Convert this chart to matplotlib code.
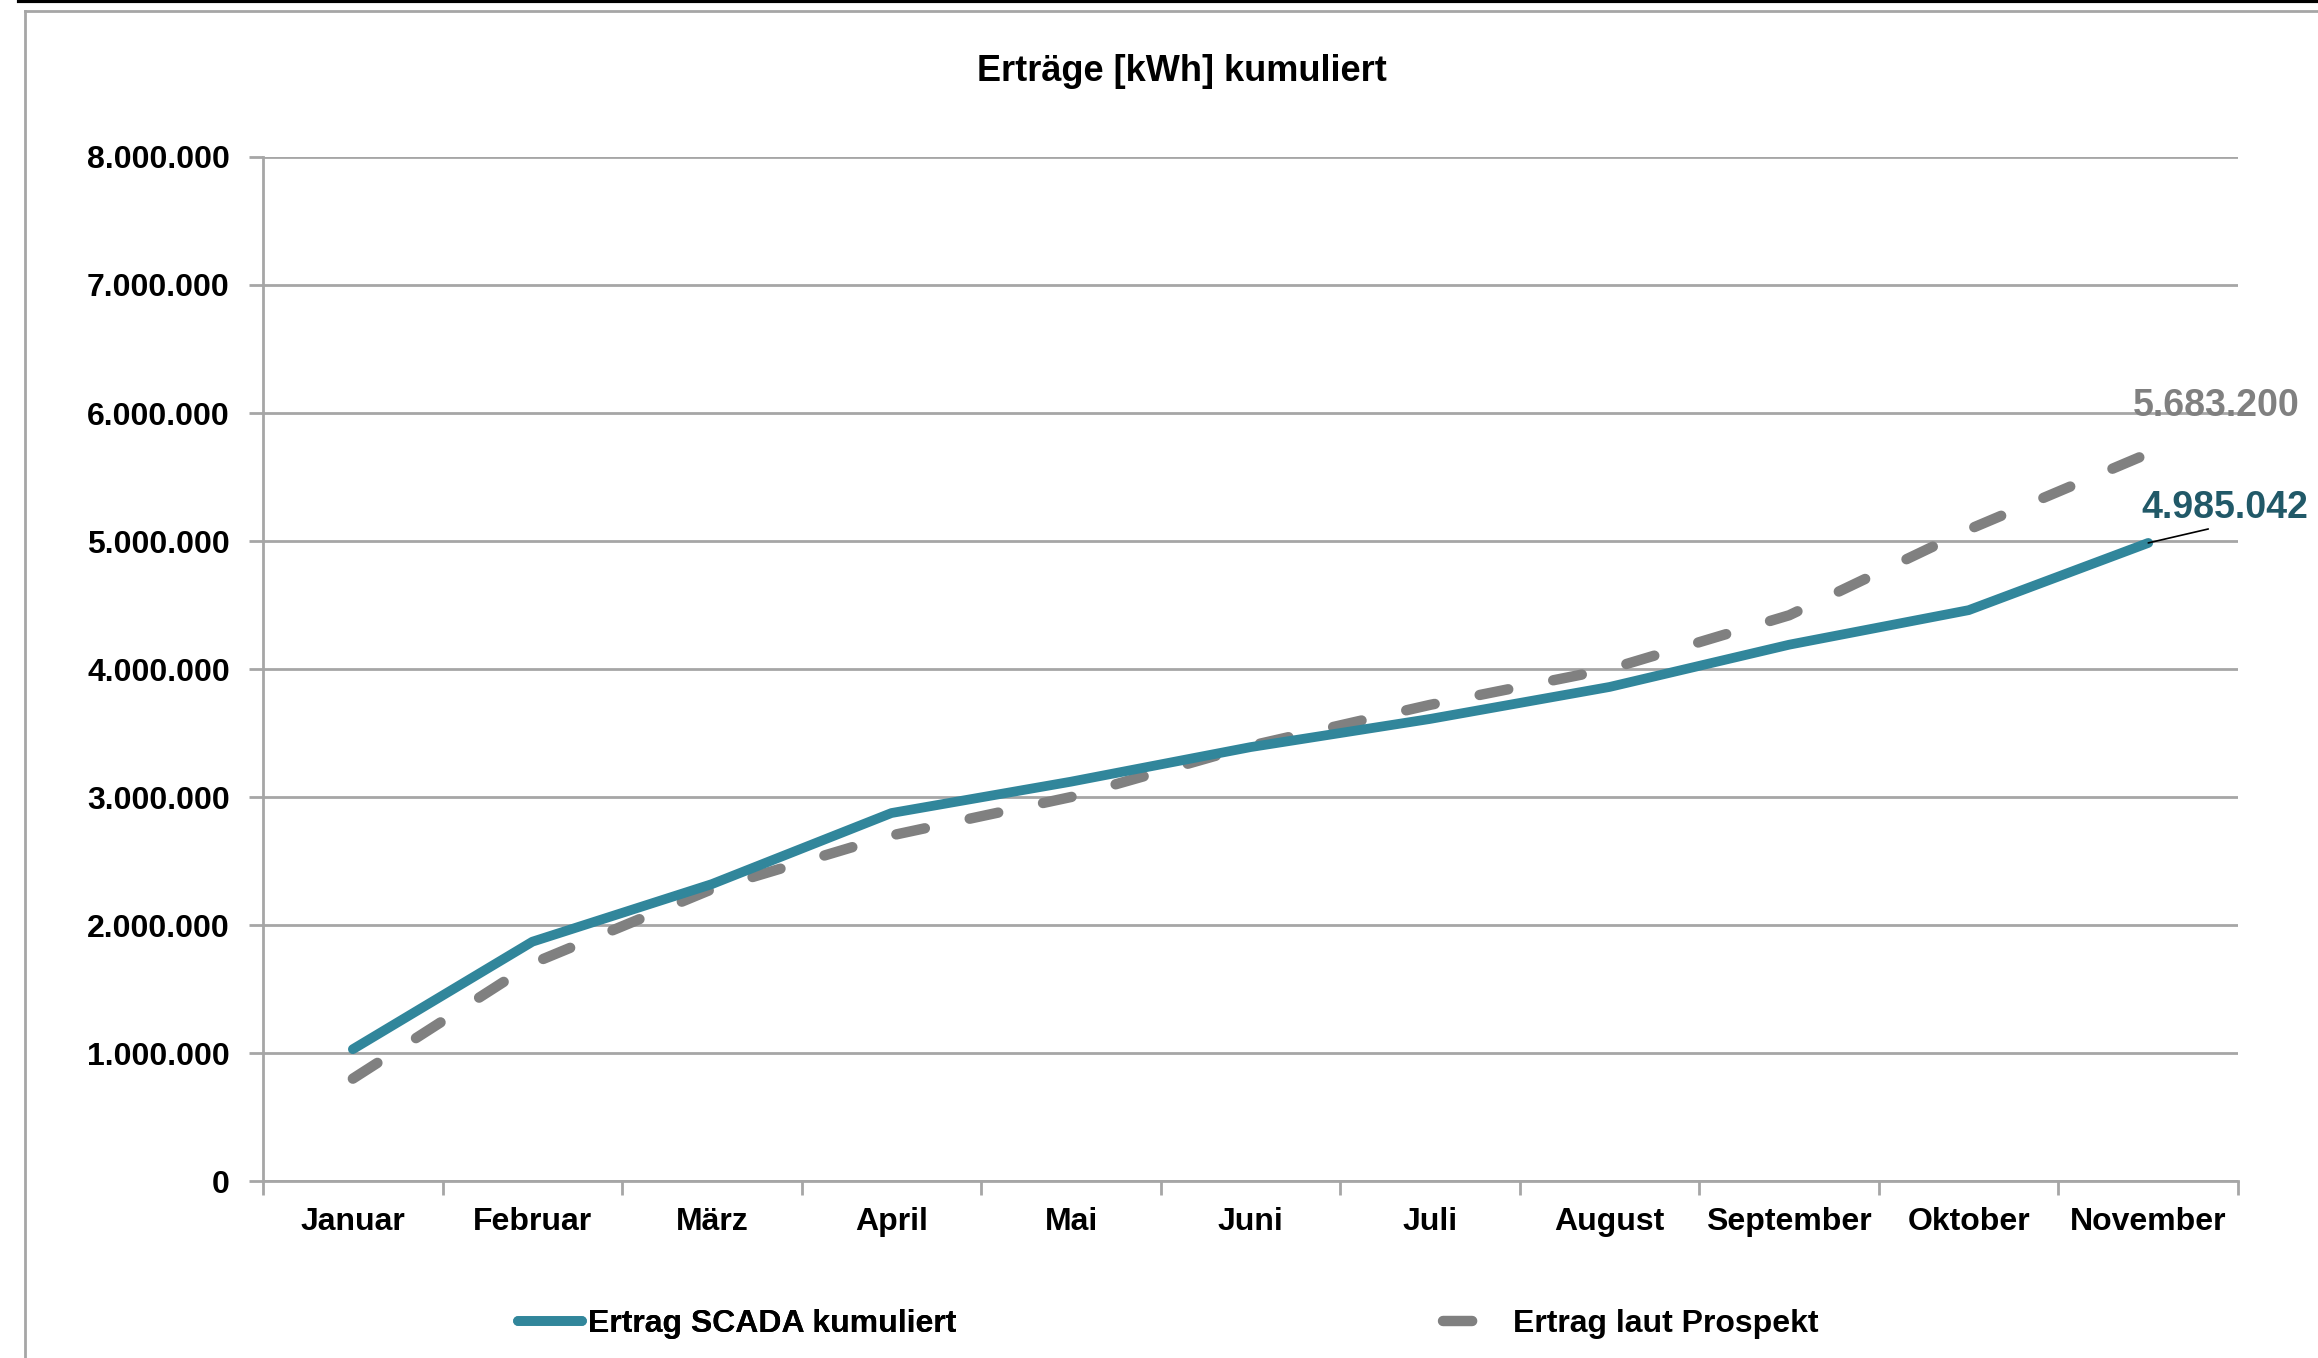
import matplotlib.pyplot as plt
from matplotlib.lines import Line2D
from matplotlib.ticker import FuncFormatter, FixedLocator, NullFormatter

plt.rcParams['font.family'] = ['Liberation Sans', 'DejaVu Sans']
plt.rcParams['font.weight'] = 'bold'

# Data (kWh, cumulative)
months = ['Januar', 'Februar', 'März', 'April', 'Mai', 'Juni', 'Juli',
          'August', 'September', 'Oktober', 'November']
scada = [1030000, 1870000, 2320000, 2875000, 3120000, 3390000, 3610000,
         3860000, 4190000, 4460000, 4985042]
prospekt = [800000, 1700000, 2280000, 2700000, 3000000, 3400000, 3720000,
            4000000, 4420000, 5090000, 5683200]

teal = '#31869B'
grey = '#808080'
grid_grey = '#A6A6A6'

fig = plt.figure(figsize=(23.18, 13.58), dpi=100)
ax = fig.add_axes([0.1135, 0.1303, 0.852, 0.7541])

x = list(range(len(months)))
ax.plot(x, scada, color=teal, lw=7, solid_capstyle='round',
        solid_joinstyle='round', label='Ertrag SCADA kumuliert', zorder=3)
ax.plot(x, prospekt, color=grey, lw=7.5, dashes=(2.8, 4.4),
        dash_capstyle='round', label='Ertrag laut Prospekt', zorder=2)

ax.set_xlim(-0.5, len(months) - 0.5)
ax.set_ylim(0, 8000000)

# y axis
ax.yaxis.set_major_locator(FixedLocator(range(0, 8000001, 1000000)))
ax.yaxis.set_major_formatter(FuncFormatter(lambda v, p: f"{v:,.0f}".replace(',', '.')))
ax.grid(axis='y', color=grid_grey, lw=2)
ax.set_axisbelow(True)

# x axis: ticks between categories, labels centered
ax.set_xticks([i + 0.5 for i in range(-1, len(months))])
ax.xaxis.set_major_formatter(NullFormatter())
ax.set_xticks(x, minor=True)
ax.set_xticklabels(months, minor=True)
ax.tick_params(axis='x', which='minor', length=0, pad=19, labelsize=23)
ax.tick_params(axis='x', which='major', length=10, width=2, color=grid_grey, direction='out')
ax.tick_params(axis='y', length=10, width=2, color=grid_grey, labelsize=23, pad=14)

for s in ['top', 'right']:
    ax.spines[s].set_visible(False)
for s in ['left', 'bottom']:
    ax.spines[s].set_color(grid_grey)
    ax.spines[s].set_linewidth(2)

# end labels
ax.annotate(f"{prospekt[-1]:,.0f}".replace(',', '.'), xy=(x[-1], prospekt[-1]),
            xytext=(49, 34), textcoords='offset points', ha='center', va='center',
            fontsize=27, color=grey, fontweight='bold', annotation_clip=False)
ax.annotate(f"{scada[-1]:,.0f}".replace(',', '.'), xy=(x[-1], scada[-1]),
            xytext=(55, 25), textcoords='offset points', ha='center', va='center',
            fontsize=27, color='#215968', fontweight='bold', annotation_clip=False,
            arrowprops=dict(arrowstyle='-', color='black', lw=1.2, relpos=(0.52, 0.05),
                            shrinkA=0, shrinkB=0))

fig.text(0.51, 0.947, 'Erträge [kWh] kumuliert', ha='center', va='center',
         fontsize=26, fontweight='bold')

# legend (two separate entries like the original)
h1, h2 = ax.get_legend_handles_labels()[0]
leg1 = fig.legend([h1], ['Ertrag SCADA kumuliert'], loc='center left',
                  bbox_to_anchor=(0.211, 0.025), frameon=False, fontsize=23,
                  handlelength=2.0, handletextpad=0.2)
fig.add_artist(leg1)
fig.legend([h2], ['Ertrag laut Prospekt'], loc='center left',
           bbox_to_anchor=(0.610, 0.025), frameon=False, fontsize=23,
           handlelength=1.0, handletextpad=1.2)

# outer frame like the source sheet
fig.add_artist(Line2D([0.011, 0.011], [0.0, 0.992], transform=fig.transFigure,
                      color=grid_grey, lw=2))
fig.add_artist(Line2D([0.011, 1.0], [0.992, 0.992], transform=fig.transFigure,
                      color=grid_grey, lw=2))
fig.add_artist(Line2D([0.008, 1.0], [0.9995, 0.9995], transform=fig.transFigure,
                      color='black', lw=3))

fig.savefig('out.png', dpi=100)
